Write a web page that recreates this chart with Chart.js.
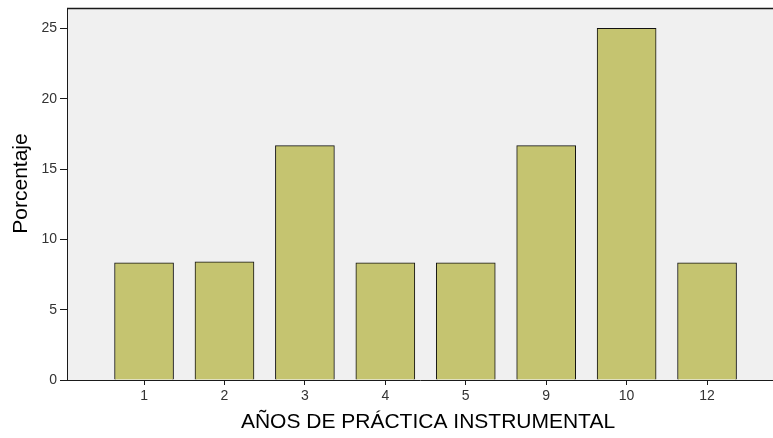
<!DOCTYPE html>
<html>
<head>
<meta charset="utf-8">
<script src="https://cdn.jsdelivr.net/npm/chart.js@4.4.1/dist/chart.umd.min.js"></script>
<style>
  html, body { margin: 0; padding: 0; background: #ffffff; }
  canvas { display: block; }
</style>
</head>
<body>
<canvas id="GraficoAnios" width="773" height="438"></canvas>
<script>
// datos
var anios = ['1', '2', '3', '4', '5', '9', '10', '12'];
var porcentaje = [8.33, 8.4, 16.67, 8.33, 8.33, 16.67, 25, 8.33];
var ticksY = [0, 5, 10, 15, 20, 25];

var tituloX = 'AÑOS DE PRÁCTICA INSTRUMENTAL';
var tituloY = 'Porcentaje';

// fondo gris y marco del area de trazado
var fondoPlugin = {
  id: 'fondo',
  beforeDraw: function(chart) {
    var a = chart.chartArea;
    var c = chart.ctx;
    c.save();
    c.fillStyle = '#f0f0f0';
    c.fillRect(a.left, a.top, a.right - a.left, a.bottom - a.top);
    c.restore();
  },
  afterDraw: function(chart) {
    var a = chart.chartArea;
    var c = chart.ctx;
    c.save();
    c.strokeStyle = '#1a1a1a';
    c.lineWidth = 1.5;
    c.beginPath();
    c.moveTo(a.left, a.top + 0.5);
    c.lineTo(a.right, a.top + 0.5);
    c.stroke();
    // titulos de ejes
    c.fillStyle = '#000000';
    c.font = '21px "Liberation Sans", Arial, sans-serif';
    c.textAlign = 'center';
    c.textBaseline = 'alphabetic';
    c.fillText(tituloX, 428, 428);
    c.translate(27, 183.5);
    c.rotate(-Math.PI / 2);
    c.fillText(tituloY, 0, 0);
    c.restore();
  }
};

var ctx1 = document.getElementById('GraficoAnios').getContext('2d');
var data1 = {
  datasets: [{
    label: 'Porcentaje',
    backgroundColor: '#c5c470',
    borderColor: '#111111',
    borderWidth: 1,
    barThickness: 59,
    data: anios.map(function(a, i) { return { x: i, y: porcentaje[i] }; })
  }]
};
var options1 = {
  responsive: false,
  animation: false,
  layout: { padding: { top: 8, right: 0, left: 0, bottom: 0 } },
  plugins: {
    legend: { display: false },
    tooltip: { enabled: false }
  },
  scales: {
    x: {
      type: 'linear',
      min: -0.958,
      max: 7.82,
      offset: false,
      afterBuildTicks: function(scale) {
        scale.ticks = anios.map(function(a, i) { return { value: i }; });
      },
      afterFit: function(scale) {
        scale.height = 58;
        scale.paddingLeft = 0;
        scale.paddingRight = 0;
      },
      grid: { display: true, offset: false, drawOnChartArea: false, drawTicks: true, tickLength: 5, color: '#1a1a1a' },
      border: { display: true, color: '#1a1a1a', width: 1 },
      ticks: {
        autoSkip: false,
        maxRotation: 0,
        padding: 3,
        color: '#333333',
        font: { family: '"Liberation Sans", Arial, sans-serif', size: 14 },
        callback: function(v) { return anios[v]; }
      }
    },
    y: {
      min: 0,
      max: 26.45,
      afterBuildTicks: function(scale) {
        scale.ticks = ticksY.map(function(v) { return { value: v }; });
      },
      afterFit: function(scale) {
        scale.width = 67;
        scale.paddingTop = 0;
        scale.paddingBottom = 0;
      },
      grid: { display: true, drawOnChartArea: false, drawTicks: true, tickLength: 7, color: '#1a1a1a' },
      border: { display: true, color: '#1a1a1a', width: 1 },
      ticks: {
        padding: 3,
        color: '#333333',
        font: { family: '"Liberation Sans", Arial, sans-serif', size: 14 }
      }
    }
  }
};
var GraficoAnios = new Chart(ctx1, {
  type: 'bar',
  data: data1,
  options: options1,
  plugins: [fondoPlugin]
});
</script>
</body>
</html>
